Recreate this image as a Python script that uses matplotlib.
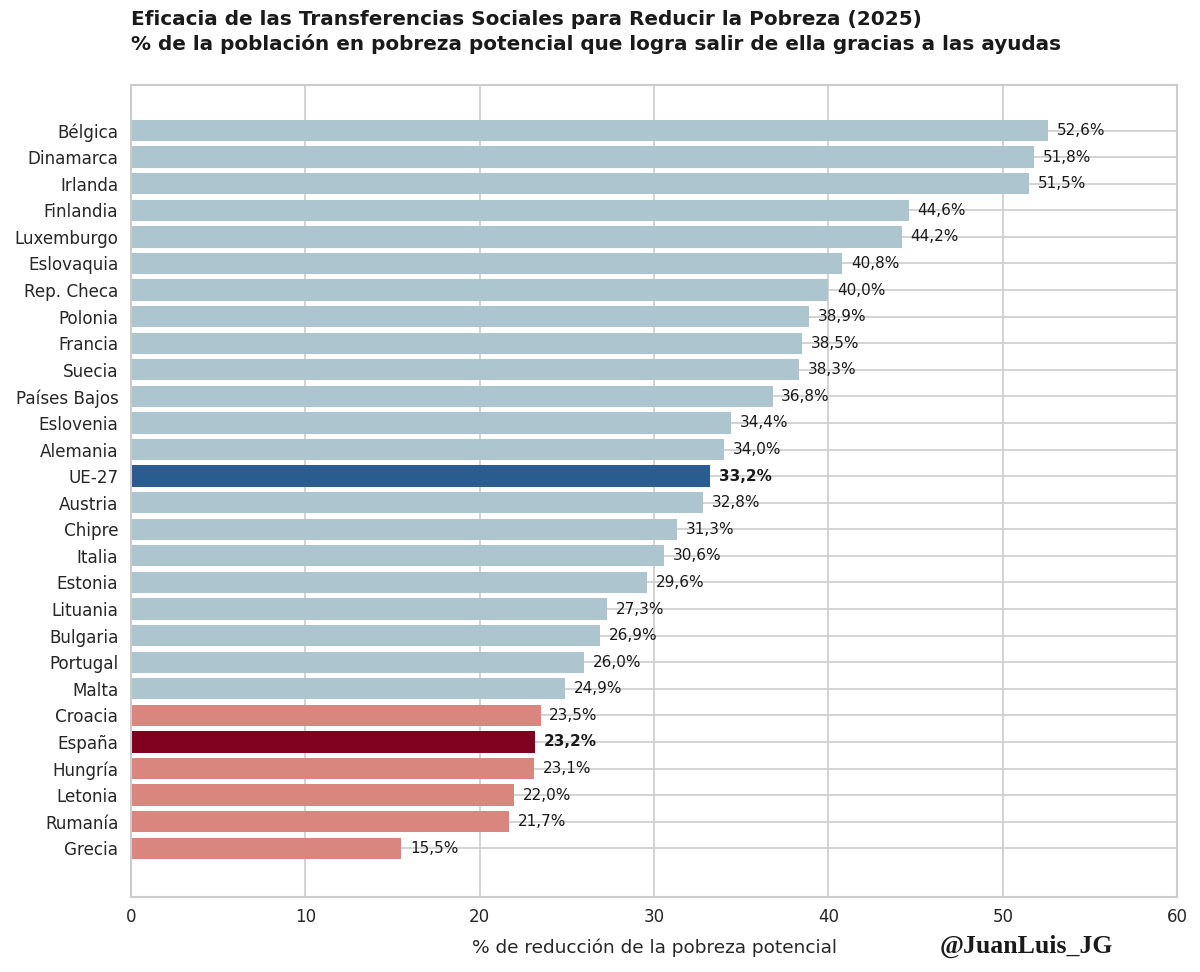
import matplotlib
matplotlib.use("Agg")
import matplotlib.pyplot as plt
import seaborn as sns

countries = [
    "Bélgica", "Dinamarca", "Irlanda", "Finlandia", "Luxemburgo", "Eslovaquia",
    "Rep. Checa", "Polonia", "Francia", "Suecia", "Países Bajos", "Eslovenia",
    "Alemania", "UE-27", "Austria", "Chipre", "Italia", "Estonia", "Lituania",
    "Bulgaria", "Portugal", "Malta", "Croacia", "España", "Hungría", "Letonia",
    "Rumanía", "Grecia",
]
values = [
    52.6, 51.8, 51.5, 44.6, 44.2, 40.8, 40.0, 38.9, 38.5, 38.3, 36.8, 34.4,
    34.0, 33.2, 32.8, 31.3, 30.6, 29.6, 27.3, 26.9, 26.0, 24.9, 23.5, 23.2,
    23.1, 22.0, 21.7, 15.5,
]

BLUE_LIGHT = "#adc5cf"
BLUE_DARK = "#2b5c8f"
RED_LIGHT = "#d9877e"
RED_DARK = "#800020"

sns.set_theme(style="whitegrid")
plt.rcParams["font.family"] = ["DejaVu Sans"]


def bar_color(name, v):
    if name == "UE-27":
        return BLUE_DARK
    if name == "España":
        return RED_DARK
    return BLUE_LIGHT if v >= 24 else RED_LIGHT


colors = [bar_color(c, v) for c, v in zip(countries, values)]

fig = plt.figure(figsize=(12, 9.72), dpi=100)
ax = fig.add_axes([0.109, 0.077, 0.872, 0.836])

ypos = list(range(len(countries)))
ax.barh(ypos, values, height=0.8, color=colors, edgecolor="none", zorder=2)
ax.set_yticks(ypos)
ax.set_yticklabels(countries, fontsize=12.1)
ax.set_ylim(len(countries) - 1 + 1.84, -1.73)
ax.set_xlim(0, 60)
ax.tick_params(axis="x", labelsize=12, pad=8)
ax.tick_params(axis="y", pad=9)
ax.tick_params(axis="both", length=0)
ax.grid(True, color="#cccccc", linewidth=1.2, zorder=0)
for s in ax.spines.values():
    s.set_color("#cccccc")
    s.set_linewidth(1.5)

for y, (c, v) in enumerate(zip(countries, values)):
    bold = c in ("UE-27", "España")
    ax.text(v + 0.5, y, f"{v:.1f}%".replace(".", ","), va="center", ha="left",
            fontsize=11, fontweight="bold" if bold else "normal",
            color="#1a1a1a", zorder=3)

ax.set_xlabel("% de reducción de la pobreza potencial", fontsize=13.3, labelpad=9,
              color="#262626")

fig.text(0.109, 0.99, "Eficacia de las Transferencias Sociales para Reducir la Pobreza (2025)\n"
         "% de la población en pobreza potencial que logra salir de ella gracias a las ayudas",
         ha="left", va="top", fontsize=14.4, fontweight="bold", color="#1a1a1a",
         linespacing=1.3)

fig.text(0.855, 0.026, "@JuanLuis_JG", ha="center", va="center", fontsize=18.5,
         fontweight="bold", family="Liberation Serif", color="#1a1a1a")

fig.savefig("out.png", dpi=100)
